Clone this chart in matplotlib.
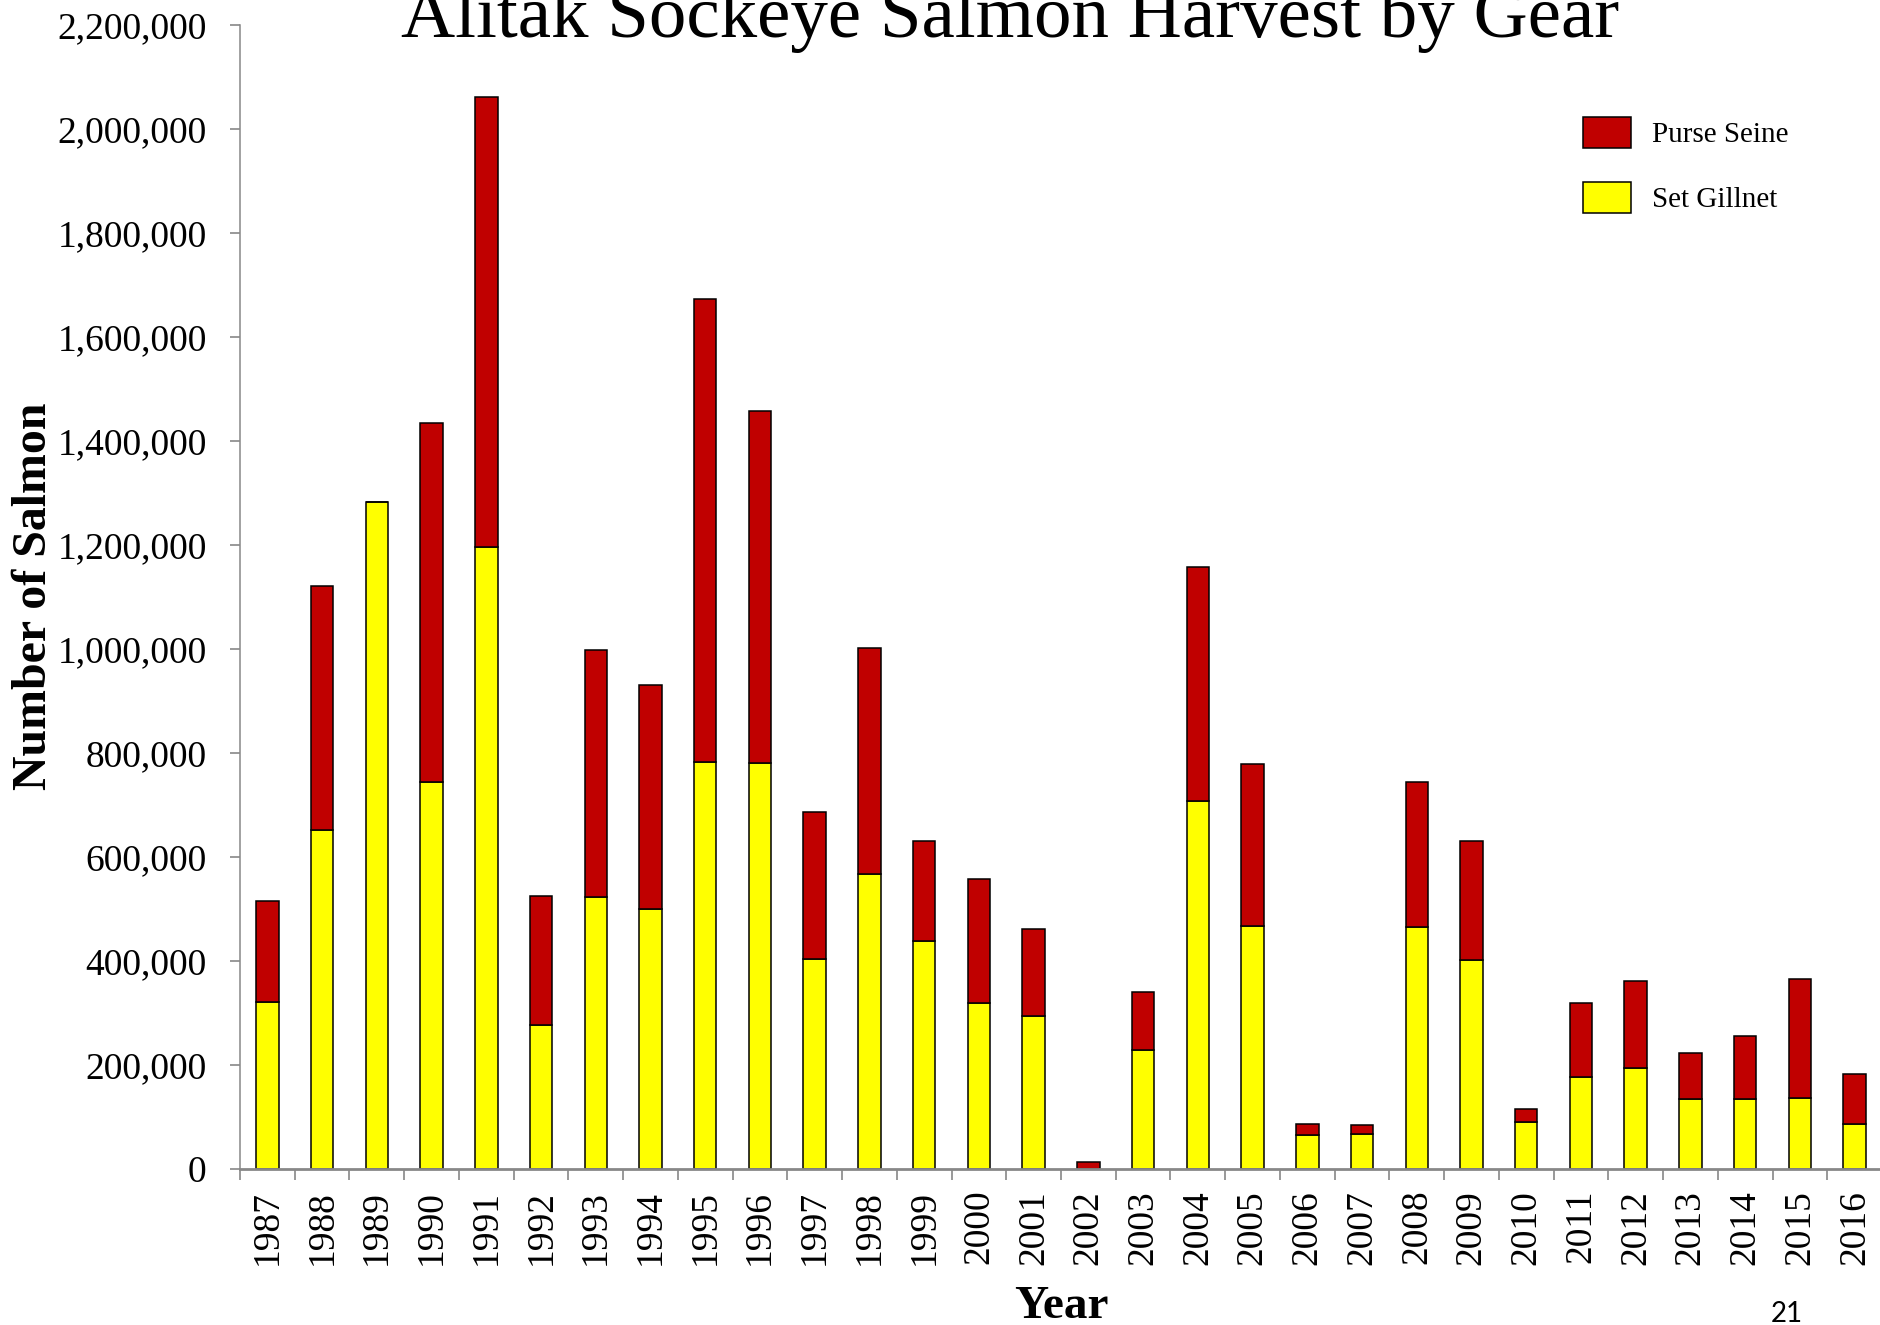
import matplotlib
matplotlib.use("Agg")
import matplotlib.pyplot as plt
from matplotlib.patches import Patch
from matplotlib.ticker import FuncFormatter, MultipleLocator
import numpy as np

years = [str(y) for y in range(1987, 2017)]
set_gillnet = [321000, 652000, 1283000, 744000, 1196000, 276000, 523000, 500000,
               783000, 781000, 403000, 567000, 438000, 320000, 295000, 0,
               228000, 707000, 468000, 65000, 68000, 465000, 402000, 91000,
               177000, 194000, 135000, 134000, 136000, 86000]
purse_seine = [195000, 470000, 0, 691000, 866000, 249000, 475000, 431000,
               890000, 677000, 284000, 435000, 193000, 238000, 167000, 14000,
               113000, 450000, 311000, 22000, 16000, 279000, 229000, 24000,
               142000, 167000, 88000, 121000, 229000, 97000]

title = "Alitak Sockeye Salmon Harvest by Gear"
series_names = ["Purse Seine", "Set Gillnet"]
colors = {"Purse Seine": "#C00000", "Set Gillnet": "#FFFF00"}

plt.rcParams['font.family'] = ['Liberation Serif', 'DejaVu Serif']

W, H = 1880, 1325
fig = plt.figure(figsize=(W / 100, H / 100), dpi=100)
left, right, bottom, top = 240, 1882, 1169, 25
ax = fig.add_axes([left / W, 1 - bottom / H, (right - left) / W, (bottom - top) / H])

x = np.arange(len(years))
bw = 0.41
ax.bar(x, set_gillnet, width=bw, color=colors["Set Gillnet"], edgecolor="black", linewidth=1.1, zorder=3)
ax.bar(x, purse_seine, width=bw, bottom=set_gillnet, color=colors["Purse Seine"], edgecolor="black",
       linewidth=1.1, zorder=3)

ax.set_xlim(-0.5, len(years) - 0.5)
ax.set_ylim(0, 2200000)
ax.yaxis.set_major_locator(MultipleLocator(200000))
ax.yaxis.set_major_formatter(FuncFormatter(lambda v, p: f"{int(v):,}"))

ax.set_xticks(x)
ax.set_xticklabels(years, rotation=90, fontsize=27)
ax.set_xticks(np.arange(-0.5, len(years), 1.0), minor=True)
ax.tick_params(axis='x', which='major', length=0, pad=15)
ax.tick_params(axis='x', which='minor', length=8, width=1.2, color='#888888', direction='out')
ax.tick_params(axis='y', which='major', length=7, width=1.2, color='#888888', labelsize=27, pad=17)

for s in ['top', 'right']:
    ax.spines[s].set_visible(False)
ax.spines['left'].set_color('#888888')
ax.spines['left'].set_linewidth(1.1)
ax.spines['bottom'].set_color('#888888')
ax.spines['bottom'].set_linewidth(2.0)
ax.spines['bottom'].set_zorder(4)

fig.text(1010 / W, 1 - 37 / H, title, ha='center', va='baseline', fontsize=54)
fig.text(34 / W, 1 - 596 / H, "Number of Salmon", rotation=90, ha='center', va='center',
         fontsize=34.5, fontweight='bold')
fig.text(1061 / W, 1 - 1307 / H, "Year", ha='center', va='center', fontsize=34, fontweight='bold')
fig.text(1787 / W, 1 - 1322 / H, "21", ha='center', va='baseline', fontsize=20, family=['Lato', 'DejaVu Sans'])

handles = [Patch(facecolor=colors[n], edgecolor='black', linewidth=1.1) for n in series_names]
fig.legend(handles, series_names, loc='upper left', bbox_to_anchor=(1583 / W, 1 - 117 / H),
           frameon=False, fontsize=21, handlelength=1.65, handleheight=1.27, handletextpad=0.7,
           labelspacing=1.15, borderpad=0, borderaxespad=0)

fig.savefig("out.png", dpi=100)
